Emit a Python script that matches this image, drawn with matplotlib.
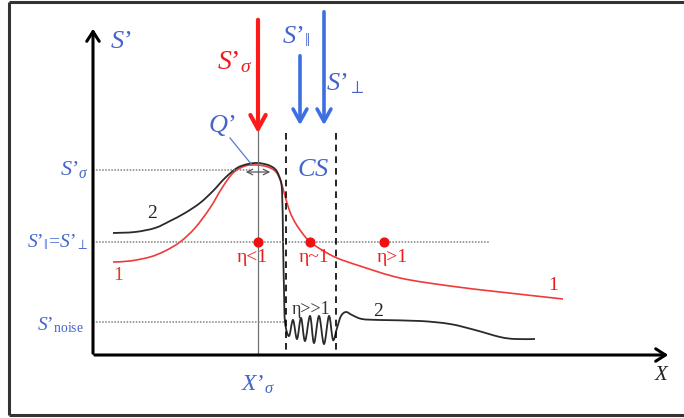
import matplotlib
matplotlib.use("Agg")
import matplotlib.pyplot as plt
from matplotlib.path import Path
from matplotlib.patches import PathPatch

plt.rcParams["mathtext.fontset"] = "custom"
plt.rcParams["mathtext.rm"] = "Liberation Serif"
plt.rcParams["mathtext.it"] = "Liberation Serif:italic"
plt.rcParams["font.family"] = ["Liberation Serif", "DejaVu Serif"]

# schematic (pixel-like units, y grows downward)
red_x = [113, 130, 150, 165, 180, 195, 210, 222, 233, 245, 257, 268, 276,
         281, 285, 290, 296, 303, 310, 322, 337, 360, 400, 450, 500, 563]
red_y = [262, 261, 257, 251, 242, 228, 208, 188, 173, 166, 165, 167, 172,
         182, 196, 212, 224, 234, 242, 250, 258, 266, 278, 286, 292, 299]

black_x = [113, 135, 155, 170, 185, 200, 213, 225, 237, 248, 258, 268, 275,
           279, 282, 283, 284, 285, 289, 293, 297, 301, 305, 310, 314, 319,
           324, 329, 333, 337, 341, 346, 352, 362, 380, 420, 450, 475, 500,
           515, 535]
black_y = [233, 232, 228, 221, 213, 203, 191, 178, 168, 164, 163, 165, 169,
           176, 190, 240, 290, 322, 336, 320, 339, 318, 341, 316, 343, 316,
           344, 316, 340, 328, 316, 312, 315, 319, 320, 321, 324, 330, 337,
           339, 339]

# levels and positions
origin = (93, 355)
s_sigma = 170
s_par = 242
s_noise = 322
x_sigma = 258
cs_left, cs_right = 286, 336
eta_x = [258, 310, 384]
eta_labels = ["η<1", "η~1", "η>1"]
eta_label_x = [252, 314, 392]

BLUE = "#4565cc"
RED = "#ee1c1c"
ARROW_BLUE = "#3d6fe3"
P = "\u2019"  # prime mark as typed in the figure


def smooth_line(ax, xs, ys, **kw):
    """Draw a smooth curve through the points (Catmull-Rom as Bezier path)."""
    pts = list(zip(xs, ys))
    verts = [pts[0]]
    codes = [Path.MOVETO]
    for i in range(len(pts) - 1):
        p0 = pts[i - 1] if i > 0 else pts[i]
        p1 = pts[i]
        p2 = pts[i + 1]
        p3 = pts[i + 2] if i + 2 < len(pts) else pts[i + 1]
        c1 = (p1[0] + (p2[0] - p0[0]) / 6, p1[1] + (p2[1] - p0[1]) / 6)
        c2 = (p2[0] - (p3[0] - p1[0]) / 6, p2[1] - (p3[1] - p1[1]) / 6)
        verts += [c1, c2, p2]
        codes += [Path.CURVE4] * 3
    ax.add_patch(PathPatch(Path(verts, codes), fill=False, **kw))


fig = plt.figure(figsize=(6.84, 4.18), dpi=100)
ax = fig.add_axes([0, 0, 1, 1])
ax.set_xlim(0, 684)
ax.set_ylim(418, 0)
ax.axis("off")

# frame (open on the right)
ax.plot([9, 684], [2, 2], color="#333333", lw=2.2, solid_capstyle="butt")
ax.plot([9, 684], [415, 415], color="#333333", lw=2.2, solid_capstyle="butt")
ax.plot([9, 9], [2, 415], color="#333333", lw=2.2, solid_capstyle="butt")

# axes arrows
ax.annotate("", xy=(origin[0], 26), xytext=(origin[0], origin[1] + 1),
            arrowprops=dict(arrowstyle="->,head_length=0.7,head_width=0.45",
                            color="black", lw=2.2))
ax.annotate("", xy=(671, origin[1]), xytext=(origin[0] - 1, origin[1]),
            arrowprops=dict(arrowstyle="->,head_length=0.7,head_width=0.45",
                            color="black", lw=2.2))

# reference levels
dot = dict(color="#808080", lw=1.1, linestyle=(0, (1, 1)))
ax.plot([origin[0], 250], [s_sigma, s_sigma], **dot)
ax.plot([origin[0], 490], [s_par, s_par], **dot)
ax.plot([origin[0], cs_left], [s_noise, s_noise], **dot)

# vertical guides
ax.plot([x_sigma, x_sigma], [130, origin[1]], color="#707070", lw=0.9)
for xc in (cs_left, cs_right):
    ax.plot([xc, xc], [133, origin[1]], color="black", lw=1.2,
            linestyle=(0, (4, 3)))

# curves
smooth_line(ax, red_x, red_y, edgecolor="#f03a3a", lw=1.2)
smooth_line(ax, black_x, black_y, edgecolor="#2a2a2a", lw=1.3)

# width arrow at the peak
ax.annotate("", xy=(243, 172), xytext=(273, 172),
            arrowprops=dict(arrowstyle="<->,head_length=0.4,head_width=0.2",
                            color="#555555", lw=0.9))
# Q' leader
ax.plot([230, 252], [138, 165], color="#5a78d0", lw=0.9)

# incoming arrows
ax.annotate("", xy=(x_sigma, 136), xytext=(x_sigma, 17),
            arrowprops=dict(arrowstyle="->,head_length=1.0,head_width=0.55",
                            color="#ff1a1a", lw=3))
ax.annotate("", xy=(300, 128), xytext=(300, 53),
            arrowprops=dict(arrowstyle="->,head_length=0.9,head_width=0.5",
                            color=ARROW_BLUE, lw=2.6))
ax.annotate("", xy=(324, 128), xytext=(324, 9),
            arrowprops=dict(arrowstyle="->,head_length=0.9,head_width=0.5",
                            color=ARROW_BLUE, lw=2.6))

# red markers
ax.scatter(eta_x, [s_par] * 3, s=40, color="#ee1111", zorder=5)
for lx, lab in zip(eta_label_x, eta_labels):
    ax.text(lx, 258, lab, color=RED, fontsize=14, ha="center", va="center")
ax.text(311, 309, "η>>1", color="#333333", fontsize=13, ha="center",
        va="center")

# curve labels
ax.text(152, 213, "2", color="#222222", fontsize=14, ha="center", va="center")
ax.text(118, 276, "1", color="#dd4020", fontsize=14, ha="center", va="center")
ax.text(553, 286, "1", color=RED, fontsize=14, ha="center", va="center")
ax.text(378, 312, "2", color="#222222", fontsize=14, ha="center", va="center")

# axis and symbol labels
ax.text(121, 42, f"$S{P}$", color=BLUE, fontsize=19, ha="center",
        va="center")
ax.text(235, 62, f"$S{P}_{{\\sigma}}$", color=RED, fontsize=20,
        ha="center", va="center")
ax.text(296, 37, f"$S{P}_{{\\|}}$", color=BLUE, fontsize=19, ha="center",
        va="center")
ax.text(345, 84, f"$S{P}_{{\\perp}}$", color=BLUE, fontsize=19,
        ha="center", va="center")
ax.text(222, 125, f"$Q{P}$", color=BLUE, fontsize=19, ha="center",
        va="center")
ax.text(313, 170, r"$CS$", color=BLUE, fontsize=19, ha="center", va="center")
ax.text(89, s_sigma, f"$S{P}_{{\\sigma}}$", color=BLUE, fontsize=16,
        ha="right", va="center")
ax.text(89, s_par, f"$S{P}_{{\\|}}\\!=\\!S{P}_{{\\perp}}$", color=BLUE,
        fontsize=14, ha="right", va="center")
ax.text(84, s_noise + 3, f"$S{P}_{{\\rm noise}}$", color=BLUE, fontsize=14,
        ha="right", va="center")
ax.text(x_sigma, 385, f"$X{P}_{{\\sigma}}$", color=BLUE, fontsize=17,
        ha="center", va="center")
ax.text(662, 376, r"$X$", color="#222222", fontsize=15, ha="center",
        va="center")

fig.savefig("out.png", dpi=100)
